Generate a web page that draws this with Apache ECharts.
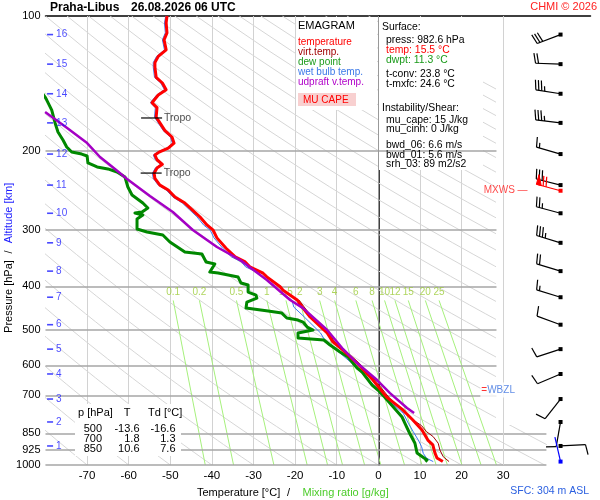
<!DOCTYPE html>
<html>
<head>
<meta charset="utf-8">
<script src="https://cdn.jsdelivr.net/npm/echarts@6/dist/echarts.min.js"></script>
<style>
html, body { margin: 0; padding: 0; background: #fff; }
#chart { width: 600px; height: 500px; }
</style>
</head>
<body>
<div id="chart"></div>
<script>
// sounding profiles: [pressure hPa, temperature degC]
const temperature = [[100,-50.8],[103.6,-51.0],[109,-50.8],[113,-51.5],[119,-51.0],[123,-52.9],[127,-53.7],[130,-53.7],
  [137,-53.4],[141,-51.9],[146,-51.0],[150,-52.9],[156,-54.4],[160,-53.2],[168,-53.4],[173,-52.5],[180,-51.3],[186,-49.6],
  [192,-49.1],[197,-50.5],[201,-52.7],[204,-53.7],[209,-53.2],[214,-51.9],[218,-53.2],[224,-53.9],[230,-53.7],[238,-52.5],
  [244,-50.5],[253,-48.9],[261,-46.5],[270,-44.8],[280,-42.9],[292,-41.2],[300,-39.7],[312,-38.8],[329,-36.6],[344,-34.4],
  [353,-32.0],[362,-30.9],[374,-27.7],[381,-26.8],[401,-23.6],[408,-22.9],[429,-19.5],[445,-18.3],[468,-16.4],[508,-12.3],
  [532,-10.9],[555,-8.5],[593,-5.1],[647,-1.3],[706,2.0],[754,5.9],[794,8.3],[836,10.5],[880,11.9],[902,13.1],[940,13.6],
  [965,14.1],[982.6,15.5]];

const virtTemp = [[429,-19.1],[468,-16.0],[508,-11.9],[532,-10.5],[555,-8.1],[593,-4.6],[647,-0.8],[706,2.5],
  [760.8,6.0],[793.8,8.4],[817.4,10.4],[843,11.6],[864.9,13.2],[894.5,14.4],[926,14.8],[958.3,15.6],[982.6,17.0]];

const dewPoint = [[146.2,-81.3],[151.5,-80.1],[153.9,-79.7],[162,-78.5],[173.1,-77.7],[181.3,-77.0],[188.9,-75.8],
  [195.8,-74.9],[200.9,-73.7],[203,-71.3],[205,-70.0],[212.5,-69.8],[216.9,-67.6],[219.1,-65.0],[222.6,-62.8],[228.4,-60.9],
  [240.4,-60.2],[250.4,-59.2],[260.9,-56.6],[267.7,-55.4],[273.3,-56.8],[274.7,-58.5],[277.5,-56.6],[283.3,-58.0],
  [298.2,-58.0],[302.8,-55.6],[307.5,-51.8],[318.7,-50.1],[335.4,-46.5],[338.8,-42.4],[353.1,-41.4],[356.6,-39.3],
  [371.7,-40.5],[373.6,-38.5],[381.4,-33.7],[393.3,-33.0],[397.4,-31.3],[411.9,-31.3],[418.3,-29.4],[424.8,-29.2],
  [433.6,-31.6],[447.2,-31.8],[454.1,-26.5],[458.8,-23.2],[470.7,-22.0],[475.5,-19.3],[480.4,-18.1],[492.9,-17.1],
  [500.5,-15.7],[508.2,-19.3],[521.4,-19.3],[526.8,-13.1],[540.4,-11.6],[560.2,-9.2],[574.7,-7.3],[608,-5.1],[620.6,-3.9],
  [663.6,-1.5],[680.8,-0.1],[705.9,1.5],[781.8,5.7],[807.4,6.4],[848.6,7.5],[894.5,8.8],[940.2,9.3],[974.7,11.7],[982.6,11.3]];

const wetBulb = [[100,-51.1],[103.6,-51.4],[109,-51.2],[113,-51.9],[119,-51.4],[123,-53.3],[127,-54.1],[130,-54.1],
  [137,-53.8],[141,-52.3],[146,-51.4],[150,-53.3],[156,-54.8],[160,-53.6],[168,-53.8],[173,-52.9],[180,-51.7],[186,-50.0],
  [192,-49.5],[197,-50.9],[201,-53.1],[204,-54.1],[209,-53.6],[214,-52.3],[218,-53.6],[224,-54.3],[230,-54.1],[238,-52.9],
  [244,-51.0],[253,-49.4],[261,-47.1],[270,-45.4],[280,-43.6],[292,-42.0],[300,-40.4],[312,-39.5],[329,-37.4],[344,-35.3],
  [353,-32.9],[362,-31.9],[374,-28.7],[381,-27.8],[401,-24.7],[408,-24.0],[429,-20.8],[445,-20.3],[468,-17.8],[508,-13.9],
  [532,-12.6],[555,-10.0],[593,-6.4],[647,-2.2],[706,1.6],[767,6.0],[807,7.2],[843,8.4],[880,9.6],[910,10.4],[942,10.8],
  [966,11.6],[982.6,13.2]];

const updraft = [[163.6,-80.1],[177.6,-74.8],[191.9,-70.0],[206.1,-66.9],[219.1,-63.3],[230.7,-60.4],[251.7,-54.9],
  [273.3,-49.4],[299.7,-44.6],[326.9,-38.8],[349.5,-33.2],[387.3,-26.8],[429.1,-21.2],[447.2,-18.1],[500.5,-12.3],
  [548.9,-8.7],[592.8,-5.1],[646.9,-0.3],[691.5,2.8],[746.7,6.9],[766.1,8.6]];

// axes and diagram grid
const pressureLabels = [100, 200, 300, 400, 500, 600, 700, 850, 925, 1000];
const isotherms = [-70, -60, -50, -40, -30, -20, -10, 0, 10, 20, 30];
const thetas = [-80,-70,-60,-50,-40,-30,-20,-10,0,10,20,30,40,50,60,70,80,90,100,110,120,130,140,150,160,170,180,190,200,210,220,230,240,250];
const mixRatio = [0.1, 0.2, 0.5, 1, 1.5, 2, 3, 4, 6, 8, 10, 12, 15, 20, 25];
const mixTopT = [-49.3, -43.0, -34.1, -26.8, -22.2, -18.9, -14.1, -10.5, -5.4, -1.5, 1.5, 4.0, 7.2, 11.3, 14.6];
const mixBottomT = [-41.6, -34.8, -25.1, -17.1, -12.2, -8.6, -3.3, 0.6, 6.3, 10.5, 13.9, 16.6, 20.1, 24.7, 28.4];
const mixTopP = 430, mixBottomP = 1000;

// altitude scale and winds (one barb per km)
const altKm = [1, 2, 3, 4, 5, 6, 7, 8, 9, 10, 11, 12, 13, 14, 15, 16];
const altP = [907, 802, 713, 627, 552, 487, 423, 370, 320, 275, 238, 203, 173, 149, 128, 110];
const windDir = [87, 190, 218, 247, 252, 290, 287, 287, 287, 285, 284, 286, 277, 279, 272, 249];
const windSpd = [10, 10, 10, 10, 10, 10, 15, 20, 35, 25, 30, 15, 35, 35, 20, 30];
const mxwsWind = [245, 285, 70];      // p, dir, speed
const sfcWind = [982.6, 347, 0];

const tropoP = [168.7, 223.8];
const tropoT = [-54.5, -54.6];
const wbzlP = 681;

const tableP = [500, 700, 850];
const tableT = ['-13.6', '1.8', '10.6'];
const tableTd = ['-16.6', '1.3', '7.6'];

// ---------------------------------------------------------------
const FONT = 'Liberation Sans';
const X_MIN = -80, X_MAX = 51;
const BARB_X = 43.8, ALT_X = -78.9, UPPER_END = 28.4, LOWER_END = 40.4;

const series = [];

// dry adiabats
const adiabatLevels = [];
for (let p = 100; p <= 1000; p += 20) adiabatLevels.push(p);
thetas.forEach(th => {
  series.push({
    type: 'line', silent: true, symbol: 'none', z: 1,
    lineStyle: { color: '#d6d6d6', width: 1 },
    data: adiabatLevels.map(p => [(th + 273.15) * Math.pow(p / 1000, 0.286) - 273.15, p])
  });
});

// mixing ratio lines
mixRatio.forEach((w, i) => {
  series.push({
    type: 'line', silent: true, symbol: 'none', z: 1,
    lineStyle: { color: '#a6f07c', width: 1 },
    data: [[mixTopT[i], mixTopP], [mixBottomT[i], mixBottomP]]
  });
});

// isotherms (under the text boxes)
series.push({
  type: 'line', data: [], z: 1, silent: true,
  markLine: {
    z: 1, silent: true, symbol: 'none', animation: false, label: { show: false },
    lineStyle: { color: '#d2d2d2', width: 1, type: 'solid' },
    data: isotherms.filter(t => t !== 0 && t !== 30).map(t => ({ xAxis: t }))
  }
});

// isobars with pressure labels, 0 and 30 isotherms (over the boxes)
series.push({
  type: 'line', data: [], z: 3, silent: true,
  markLine: {
    z: 3, silent: true, symbol: 'none', animation: false,
    label: { show: true, position: 'start', distance: 5, color: '#000', fontSize: 11, fontFamily: FONT, formatter: p => p.name },
    data: pressureLabels.map(p => [
      { name: String(p), coord: [X_MIN, p], lineStyle: { color: p === 100 ? 'rgba(0,0,0,0)' : '#a6a6a6', width: 1.5, type: 'solid' } },
      { coord: [p > 800 ? LOWER_END : UPPER_END, p] }
    ]).concat([
      [{ name: '', coord: [0, 100], lineStyle: { color: '#999', width: 1, type: 'solid' } }, { coord: [0, 1000] }],
      [{ name: '', coord: [30, 100], lineStyle: { color: '#d2d2d2', width: 1, type: 'solid' } }, { coord: [30, 1000] }]
    ])
  }
});

// mixing ratio labels (under the profiles)
series.push({
  type: 'scatter', silent: true, z: 3, symbolSize: 1, itemStyle: { color: 'rgba(0,0,0,0)' },
  label: { show: true, position: 'top', distance: 3, color: '#9acb34', fontSize: 10, fontFamily: FONT,
    formatter: p => String(mixRatio[p.dataIndex]) },
  data: mixRatio.map((w, i) => [mixTopT[i], mixTopP])
});

function profile(arr, color, width, z) {
  return { type: 'line', silent: true, symbol: 'none', z: z, lineStyle: { color: color, width: width, join: 'round' },
    data: arr.map(d => [d[1], d[0]]) };
}
series.push(profile(wetBulb, '#3a78f0', 1, 4));
series.push(profile(virtTemp, '#a00000', 1, 4));
series.push(profile(dewPoint, '#008800', 3, 5));
series.push(profile(temperature, '#ff0000', 3, 5));
series.push(profile(updraft, '#a400c4', 2.5, 6));

// altitude ticks
series.push({
  type: 'scatter', silent: true, z: 7, symbol: 'rect', symbolSize: [6, 1.6],
  itemStyle: { color: '#1a1aff' },
  label: { show: true, position: 'right', distance: 3, color: '#1a1aff', fontSize: 10, fontFamily: FONT,
    formatter: p => String(altKm[p.dataIndex]) },
  data: altP.map(p => [ALT_X, p])
});

// tropopause markers
series.push({
  type: 'scatter', silent: true, z: 7, symbol: 'rect', symbolSize: [21, 1.5],
  itemStyle: { color: '#000' },
  label: { show: true, position: 'right', distance: 2, color: '#222', fontSize: 10.5, fontFamily: FONT, formatter: 'Tropo' },
  data: tropoP.map((p, i) => [tropoT[i], p])
});

// WBZL and MXWS tags
series.push({
  type: 'scatter', silent: true, z: 7, symbolSize: 1, itemStyle: { color: 'rgba(0,0,0,0)' },
  label: { show: true, position: 'right', distance: 0, fontSize: 10, fontFamily: FONT, backgroundColor: '#fff',
    padding: [3, 6, 2, 1], formatter: '{r|=}{b|WBZL}',
    rich: { r: { color: '#ff0000', fontSize: 10, fontFamily: FONT }, b: { color: '#3a70e0', fontSize: 10, fontFamily: FONT } } },
  data: [[24.4, wbzlP]]
});
series.push({
  type: 'scatter', silent: true, z: 7, symbolSize: 1, itemStyle: { color: 'rgba(0,0,0,0)' },
  label: { show: true, position: 'left', distance: 0, color: '#ff1a1a', fontSize: 10, fontFamily: FONT, formatter: 'MXWS \u2014' },
  data: [[36.0, mxwsWind[0]]]
});

// wind barbs
function barbItem(color) {
  return function (params, api) {
    const o = api.coord([api.value(0), api.value(1)]);
    const a = api.value(2) * Math.PI / 180;
    let s = Math.round(api.value(3) / 5) * 5;
    const ux = Math.sin(a), uy = -Math.cos(a);
    const fx = -uy, fy = ux;
    const L = 25, tx = o[0] + ux * L, ty = o[1] + uy * L;
    const st = { stroke: color, lineWidth: 1.2 };
    const kids = [
      { type: 'line', shape: { x1: o[0], y1: o[1], x2: tx, y2: ty }, style: st },
      { type: 'rect', shape: { x: o[0] - 2, y: o[1] - 2, width: 4, height: 4 }, style: { fill: color } }
    ];
    let d = 0;
    while (s >= 50) {
      const px = tx - ux * d, py = ty - uy * d;
      kids.push({ type: 'polygon', shape: { points: [[px, py], [px + fx * 10, py + fy * 10], [px - ux * 5, py - uy * 5]] },
        style: { fill: color, stroke: color, lineWidth: 1 } });
      d += 7; s -= 50;
    }
    while (s >= 10) {
      const px = tx - ux * d, py = ty - uy * d;
      kids.push({ type: 'line', shape: { x1: px, y1: py, x2: px + fx * 10 + ux * 2, y2: py + fy * 10 + uy * 2 }, style: st });
      d += 3; s -= 10;
    }
    if (s >= 5) {
      if (d === 0) d = 3;
      const px = tx - ux * d, py = ty - uy * d;
      kids.push({ type: 'line', shape: { x1: px, y1: py, x2: px + fx * 5 + ux, y2: py + fy * 5 + uy }, style: st });
    }
    return { type: 'group', children: kids };
  };
}
series.push({
  type: 'custom', silent: true, z: 8, clip: false, encode: { x: 0, y: 1 },
  renderItem: barbItem('#000'),
  data: altP.map((p, i) => [BARB_X, p, windDir[i], windSpd[i]])
});
series.push({
  type: 'custom', silent: true, z: 8, clip: false, encode: { x: 0, y: 1 },
  renderItem: barbItem('#ff0000'),
  data: [[BARB_X, mxwsWind[0], mxwsWind[1], mxwsWind[2]]]
});
series.push({
  type: 'custom', silent: true, z: 8, clip: false, encode: { x: 0, y: 1 },
  renderItem: barbItem('#0000ff'),
  data: [[BARB_X, sfcWind[0], sfcWind[1], sfcWind[2]]]
});

// boxes and texts
function txt(x, y, text, size, color, extra) {
  return Object.assign({ type: 'text', x: x, y: y, z: 20, silent: true,
    style: Object.assign({ text: text, fill: color || '#000', fontSize: size, fontFamily: FONT, textVerticalAlign: 'middle' }, extra || {}) });
}
function box(x, y, w, h, fill, z) {
  return { type: 'rect', z: z, silent: true, shape: { x: x, y: y, width: w, height: h }, style: { fill: fill } };
}

const graphics = [
  box(496, 17, 104, 408, '#fff', 2),
  box(547, 425, 53, 41, '#fff', 2),
  box(296, 17, 81, 93, '#fff', 2),
  box(379, 17, 104, 153, '#fff', 2),
  box(75, 404, 106, 52, '#fff', 9),

  txt(50, 8, 'Praha-Libus', 12, '#000', { fontWeight: 'bold' }),
  txt(131, 8, '26.08.2026 06 UTC', 12, '#000', { fontWeight: 'bold' }),
  txt(597, 7, 'CHMI \u00a9 2026', 11, '#ff2020', { textAlign: 'right' }),

  txt(298, 26, 'EMAGRAM', 11),
  txt(298, 42, 'temperature', 10, '#ff0000'),
  txt(298, 52, 'virt.temp.', 10, '#a00000'),
  txt(298, 62, 'dew point', 10, '#1a9a1a'),
  txt(298, 72, 'wet bulb temp.', 10, '#3a78e8'),
  txt(298, 82, 'udpraft v.temp.', 10, '#b000c8'),
  box(298, 93, 58, 13, '#f8d0d0', 19),
  txt(303, 100, 'MU CAPE', 10, '#ff0000'),

  txt(382, 27, 'Surface:', 10.4),
  txt(386, 40, 'press: 982.6 hPa', 10.4),
  txt(386, 50, 'temp: 15.5 \u00b0C', 10.4, '#ff0000'),
  txt(386, 60, 'dwpt: 11.3 \u00b0C', 10.4, '#1a9a1a'),
  txt(386, 74, 't-conv: 23.8 \u00b0C', 10.4),
  txt(386, 84, 't-mxfc: 24.6 \u00b0C', 10.4),
  txt(382, 108, 'Instability/Shear:', 10.4),
  txt(386, 120, 'mu_cape: 15 J/kg', 10.4),
  txt(386, 129.5, 'mu_cinh: 0 J/kg', 10.4),
  txt(386, 145, 'bwd_06: 6.6 m/s', 10.4),
  txt(386, 155, 'bwd_01: 5.6 m/s', 10.4),
  txt(386, 164, 'srh_03: 89 m2/s2', 10.4),

  txt(78, 413, 'p [hPa]', 11),
  txt(127, 413, 'T', 11, '#000', { textAlign: 'center' }),
  txt(148, 413, 'Td [\u00b0C]', 11),

  txt(197, 492.5, 'Temperature [\u00b0C]', 11),
  txt(288.5, 492.5, '/', 11, '#000', { textAlign: 'center' }),
  txt(302.5, 492.5, 'Mixing ratio [g/kg]', 11, '#4ccc2a'),
  txt(589, 491, 'SFC: 304 m ASL', 10.5, '#2a5fe0', { textAlign: 'right' }),

  Object.assign(txt(9, 296.5, 'Pressure [hPa]', 11, '#000', { textAlign: 'center' }), { rotation: Math.PI / 2 }),
  Object.assign(txt(9, 252, '/', 11, '#000', { textAlign: 'center' }), { rotation: Math.PI / 2 }),
  Object.assign(txt(9, 213, 'Altitude [km]', 11, '#1a1aff', { textAlign: 'center' }), { rotation: Math.PI / 2 })
];
tableP.forEach((p, i) => {
  const y = 428.5 + i * 10;
  graphics.push(txt(102, y, String(p), 11, '#000', { textAlign: 'right' }));
  graphics.push(txt(139.5, y, tableT[i], 11, '#000', { textAlign: 'right' }));
  graphics.push(txt(175.5, y, tableTd[i], 11, '#000', { textAlign: 'right' }));
});

const chart = echarts.init(document.getElementById('chart'), null, { renderer: 'canvas', width: 600, height: 500 });
chart.setOption({
  animation: false,
  backgroundColor: '#fff',
  textStyle: { fontFamily: FONT },
  grid: { left: 45.5, right: 9.5, top: 16, bottom: 35, containLabel: false, outerBoundsMode: 'none' },
  xAxis: [
    { type: 'value', min: X_MIN, max: X_MAX, interval: 10, position: 'bottom',
      axisLine: { show: false }, axisTick: { show: false }, splitLine: { show: false },
      axisLabel: { color: '#000', fontSize: 11.5, fontFamily: FONT, margin: 5,
        formatter: v => (v >= -70 && v <= 30) ? String(v) : '' } },
    { type: 'value', min: X_MIN, max: X_MAX, position: 'top',
      axisLine: { show: true, lineStyle: { color: '#000', width: 1.5 } },
      axisTick: { show: false }, axisLabel: { show: false }, splitLine: { show: false } }
  ],
  yAxis: {
    type: 'log', logBase: 10, min: 100, max: 1000, inverse: true,
    axisLine: { show: true, lineStyle: { color: '#000', width: 1.5 } },
    axisTick: { show: false }, axisLabel: { show: false }, splitLine: { show: false }, minorSplitLine: { show: false }
  },
  graphic: { elements: graphics },
  series: series
});
</script>
</body>
</html>
